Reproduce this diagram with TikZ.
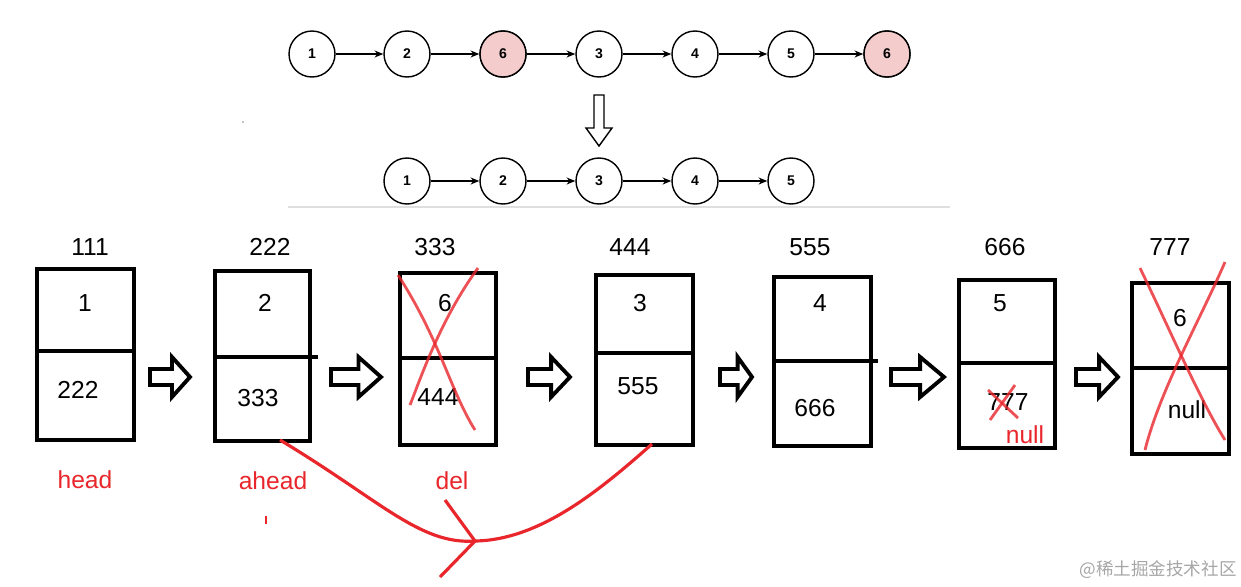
\documentclass[tikz,border=0pt]{standalone}
\usepackage{fontspec}
\setmainfont{Liberation Sans}
\newfontfamily\cjk{Noto Sans CJK SC}
\usetikzlibrary{arrows.meta}
\definecolor{pinkf}{HTML}{F4CCCC}
\definecolor{redm}{HTML}{E8262B}
\begin{document}
\begin{tikzpicture}[x=0.02cm,y=-0.02cm,
 cn/.style={circle,draw,line width=0.8pt,minimum size=0.92cm,inner sep=0pt,font=\bfseries\footnotesize},
 ca/.style={-{Stealth[length=5pt,width=4pt]},line width=0.6pt},
 bx/.style={draw,line width=2pt},
 tx/.style={font=\fontsize{14}{14}\selectfont},
 rl/.style={text=redm,font=\fontsize{14}{14}\selectfont},
 fat/.style={draw,line width=2.2pt,fill=white},
 rx/.style={draw=redm,line width=1.6pt,opacity=0.8}]
\useasboundingbox (0,0) rectangle (1241,586);
% top row
\foreach \x/\l/\n in {312/1/a1,407/2/a2,503/6/a3,599/3/a4,695/4/a5,791/5/a6,887/6/a7}
  \node[cn] (\n) at (\x,54) {\l};
\fill[white] (a3) circle (0);
\node[cn,fill=pinkf] at (a3) {6};
\node[cn,fill=pinkf] at (a7) {6};
\foreach \p/\q in {a1/a2,a2/a3,a3/a4,a4/a5,a5/a6,a6/a7} \draw[ca] (\p) -- (\q);
\draw[line width=0.8pt] (594,95) -- (604,95) -- (604,128) -- (612,128) -- (599,146) -- (586,128) -- (594,128) -- cycle;
\foreach \x/\l/\n in {407/1/b1,503/2/b2,599/3/b3,695/4/b4,791/5/b5}
  \node[cn] (\n) at (\x,181) {\l};
\foreach \p/\q in {b1/b2,b2/b3,b3/b4,b4/b5} \draw[ca] (\p) -- (\q);
\draw[gray!25,line width=0.8pt] (288,207) -- (950,207);
\fill (243,122) circle (0.6);
% boxes
\foreach \l/\t/\r/\b/\m/\e/\addr/\ax/\v/\vx/\w/\wx/\wy/\n in {
 37/269/134/440/351/134/111/90/1/85/222/78/390/c1,
 215/271/310/441/357/318/222/270/2/265/333/258/398/c2,
 400/273/496/445/358/496/333/435/6/445/444/438/397/c3,
 596/275/693/445/353/693/444/630/3/640/555/638/386/c4,
 774/277/871/446/361/878/555/810/4/820/666/815/408/c5,
 959/280/1055/448/363/1055/666/1005/5/1000/777/1008/402/c6}{
 \draw[bx] (\l,\t) rectangle (\r,\b);
 \draw[bx] (\l,\m) -- (\e,\m);
 \node[tx] (\n t) at (\ax,247) {\addr};
 \node[tx] (\n v) at (\vx,303) {\v};
 \node[tx] (\n w) at (\wx,\wy) {\w};
}
\draw[bx] (1132,283) rectangle (1229,454);
\draw[bx] (1132,368) -- (1229,368);
\node[tx] (c7t) at (1170,247) {777};
\node[tx] (c7v) at (1180,318) {6};
\node[tx] (c7w) at (1187,410) {null};
\node[rl] (n6) at (1025,435) {null};
% fat arrows
\foreach \a/\bb in {150/190,331/381,528/570,720/752,891/944,1076/1118}{
 \pgfmathsetmacro\h{\a+0.55*(\bb-\a)}
 \draw[fat] (\a,369) -- (\h,369) -- (\h,357) -- (\bb,377) -- (\h,397) -- (\h,385) -- (\a,385) -- cycle;
}
% red labels
\node[rl] (h) at (85,480) {head};
\node[rl] (ah) at (273,481) {ahead};
\node[rl] (dl) at (452,481) {del};
\draw[redm,line width=0.6pt] (266,516) -- (266,524);
% curve
\draw[redm,line width=1.8pt] (280,440) .. controls (380,500) and (420,545) .. (475,541) .. controls (540,540) and (600,490) .. (652,444);
\draw[redm,line width=1.8pt] (445,500) -- (475,541) -- (440,577);
% crosses
\draw[rx] (398,275) .. controls (440,340) and (450,390) .. (475,430);
\draw[rx] (478,268) .. controls (440,320) and (420,380) .. (410,405);
\draw[rx] (1140,268) .. controls (1170,330) and (1200,400) .. (1225,440);
\draw[rx] (1225,262) .. controls (1200,320) and (1160,390) .. (1145,450);
\draw[rx] (988,390) -- (1018,418);
\draw[rx] (1015,385) -- (990,420);
\node[text=gray!70,font=\cjk\fontsize{10}{10}\selectfont] (wm) at (1158,570) {@稀土掘金技术社区};
\end{tikzpicture}
\end{document}
